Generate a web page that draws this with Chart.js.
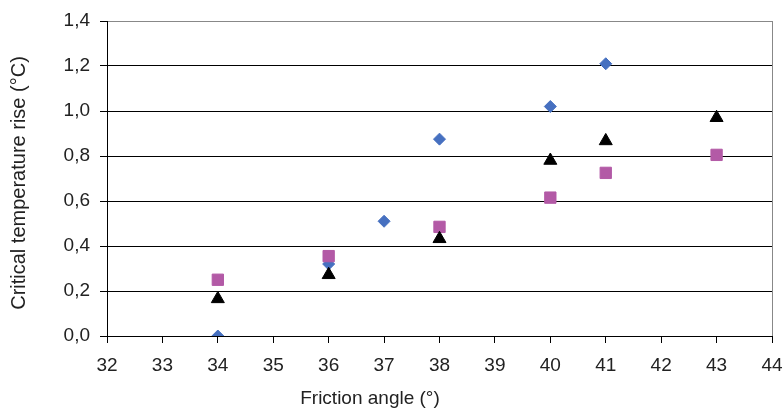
<!DOCTYPE html>
<html>
<head>
<meta charset="utf-8">
<script src="https://cdn.jsdelivr.net/npm/chart.js@4.4.0/dist/chart.umd.min.js"></script>
<style>
  body { margin: 0; background: #fff; }
  #wrap { width: 784px; height: 414px; }
</style>
</head>
<body>
<div id="wrap"><canvas id="canvas" width="784" height="414"></canvas></div>
<script>
var canvas = document.getElementById("canvas");
var ctx = canvas.getContext("2d");

// series values
var blueAngles = [34, 36, 37, 38, 40, 41];
var blueRise = [0.0, 0.32, 0.51, 0.875, 1.02, 1.21];

var pinkAngles = [34, 36, 38, 40, 41, 43];
var pinkRise = [0.25, 0.355, 0.485, 0.615, 0.725, 0.805];

var blackAngles = [34, 36, 38, 40, 41, 43];
var blackRise = [0.165, 0.272, 0.432, 0.78, 0.867, 0.97];

var xLabel = "Friction angle (°)";
var yLabel = "Critical temperature rise (°C)";

function toPoints(xs, ys) {
    let pts = [];
    for (let i = 0; i < xs.length; i++) {
        pts.push({ x: xs[i], y: ys[i] });
    }
    return pts;
}

var textColor = "#222";
var tickFont = { family: "Liberation Sans, Arial, sans-serif", size: 19 };

// axis titles drawn at the spots where the original had them
var axisTitles = {
    id: "axisTitles",
    afterDraw(chart) {
        let c = chart.ctx;
        c.save();
        c.fillStyle = textColor;
        c.textAlign = "center";
        c.textBaseline = "middle";
        c.font = "19px 'Liberation Sans', Arial, sans-serif";
        c.fillText(chart.options.scales.x.title.text, 370, 399);
        c.font = "20px 'Liberation Sans', Arial, sans-serif";
        c.translate(19, 183);
        c.rotate(-Math.PI / 2);
        c.fillText(chart.options.scales.y.title.text, 0, 0);
        c.restore();
    }
};

var dataset = {
    datasets: [
        {
            data: toPoints(blueAngles, blueRise),
            pointStyle: "rectRot",
            pointRadius: 6,
            backgroundColor: "#4670C0",
            borderColor: "#4670C0",
            borderWidth: 1,
            order: 3
        },
        {
            data: toPoints(pinkAngles, pinkRise),
            pointStyle: "rect",
            pointRadius: 8,
            backgroundColor: "#B35AA6",
            borderColor: "#B35AA6",
            borderWidth: 1,
            order: 2
        },
        {
            data: toPoints(blackAngles, blackRise),
            pointStyle: "triangle",
            pointRadius: 7.5,
            backgroundColor: "#000",
            borderColor: "#000",
            borderWidth: 1,
            order: 1
        }
    ]
};

var options = {
    responsive: false,
    animation: false,
    layout: { padding: { top: 21, right: 12, left: 0, bottom: 0 } },
    plugins: {
        legend: { display: false },
        tooltip: { enabled: false }
    },
    scales: {
        x: {
            type: "linear",
            min: 32,
            max: 44,
            afterFit: function (scale) {
                scale.height = 78;
                scale.paddingRight = 0;
                scale.paddingLeft = 0;
            },
            title: { display: false, text: xLabel },
            ticks: {
                stepSize: 1,
                color: textColor,
                font: tickFont,
                padding: 11,
                maxRotation: 0
            },
            grid: {
                color: function (c) { return c.tick && c.tick.value === 44 ? "#888" : "rgba(0,0,0,0)"; },
                tickColor: "#000",
                tickLength: 7,
                lineWidth: 1
            },
            border: { display: true, color: "#000", width: 1 }
        },
        y: {
            min: 0,
            max: 1.4,
            afterFit: function (scale) {
                scale.width = 107;
                scale.paddingTop = 0;
                scale.paddingBottom = 0;
            },
            title: { display: false, text: yLabel },
            ticks: {
                stepSize: 0.2,
                color: textColor,
                font: tickFont,
                padding: 10,
                callback: function (v) { return v.toFixed(1).replace(".", ","); }
            },
            grid: {
                color: function (c) { return c.tick && Math.abs(c.tick.value - 1.4) < 1e-6 ? "#888" : "#000"; },
                tickColor: "#000",
                tickLength: 7,
                lineWidth: 1
            },
            border: { display: true, color: "#000", width: 1 }
        }
    }
};

var myChart = new Chart(ctx, {
    type: "scatter",
    data: dataset,
    options: options,
    plugins: [axisTitles]
});
</script>
</body>
</html>
